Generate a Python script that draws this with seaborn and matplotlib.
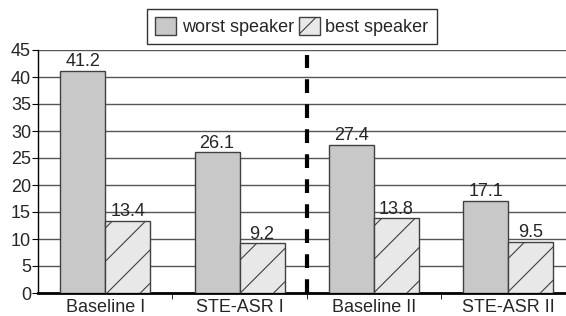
import pandas as pd
import matplotlib.pyplot as plt
import matplotlib.patches as mpatches
import seaborn as sns

# Data
categories = ["Baseline I", "STE-ASR I", "Baseline II", "STE-ASR II"]
worst_speaker = [41.2, 26.1, 27.4, 17.1]
best_speaker = [13.4, 9.2, 13.8, 9.5]
series_names = ["worst speaker", "best speaker"]
y_ticks = [0, 5, 10, 15, 20, 25, 30, 35, 40, 45]

df = pd.DataFrame({
    "system": categories * 2,
    "value": worst_speaker + best_speaker,
    "speaker": [series_names[0]] * 4 + [series_names[1]] * 4,
})

sns.set_style("white")
plt.rcParams["font.family"] = ["Liberation Sans", "DejaVu Sans"]
plt.rcParams["hatch.color"] = "#303030"
plt.rcParams["hatch.linewidth"] = 0.8

fig = plt.figure(figsize=(5.66, 3.16), dpi=100)
ax = fig.add_axes([38 / 566, 23 / 316, 528 / 566, 243 / 316])

colors = ["#c8c8c8", "#e8e8e8"]
sns.barplot(data=df, x="system", y="value", hue="speaker", palette=colors,
            width=0.67, edgecolor="#404040", linewidth=1, ax=ax, legend=False,
            zorder=3)

for bar in ax.containers[1]:
    bar.set_hatch("/")

# Value labels above bars
for cont in ax.containers:
    for bar in cont:
        h = bar.get_height()
        ax.text(bar.get_x() + bar.get_width() / 2, h + 0.1, f"{h:.1f}",
                ha="center", va="bottom", fontsize=13, zorder=4)

# Dashed separator between the two groups
ax.plot([1.5, 1.5], [0, 44], color="black", lw=3, ls=(0, (3.3, 2.7)), zorder=4)

ax.set_ylim(0, 45)
ax.set_xlim(-0.5, 3.43)
ax.set_yticks(y_ticks)
ax.yaxis.grid(True, color="#555555", lw=1)
ax.set_axisbelow(True)
ax.set_xlabel("")
ax.set_ylabel("")

ax.set_xticks([0.5, 1.5, 2.5], minor=True)
ax.tick_params(axis="x", which="major", length=0, labelsize=13, pad=4)
ax.tick_params(axis="x", which="minor", length=4, color="black", direction="out", bottom=True)
ax.tick_params(axis="y", length=4, color="black", direction="out", left=True, labelsize=13, pad=1)

for side in ["top", "right"]:
    ax.spines[side].set_visible(False)
ax.spines["left"].set_color("black")
ax.spines["left"].set_linewidth(1)
ax.spines["bottom"].set_color("black")
ax.spines["bottom"].set_linewidth(2)

handles = [
    mpatches.Patch(facecolor=colors[0], edgecolor="#404040", label=series_names[0]),
    mpatches.Patch(facecolor=colors[1], edgecolor="#404040", hatch="/", label=series_names[1]),
]
leg = fig.legend(handles=handles, loc="upper center", bbox_to_anchor=(292 / 566, 1 - 9 / 316),
                 ncol=2, frameon=True, fancybox=False, fontsize=13,
                 handlelength=1.15, handleheight=1.15, handletextpad=0.3,
                 columnspacing=0.3, borderpad=0.45, borderaxespad=0)
leg.get_frame().set_edgecolor("black")
leg.get_frame().set_linewidth(1)

plt.savefig("out.png", dpi=100)
